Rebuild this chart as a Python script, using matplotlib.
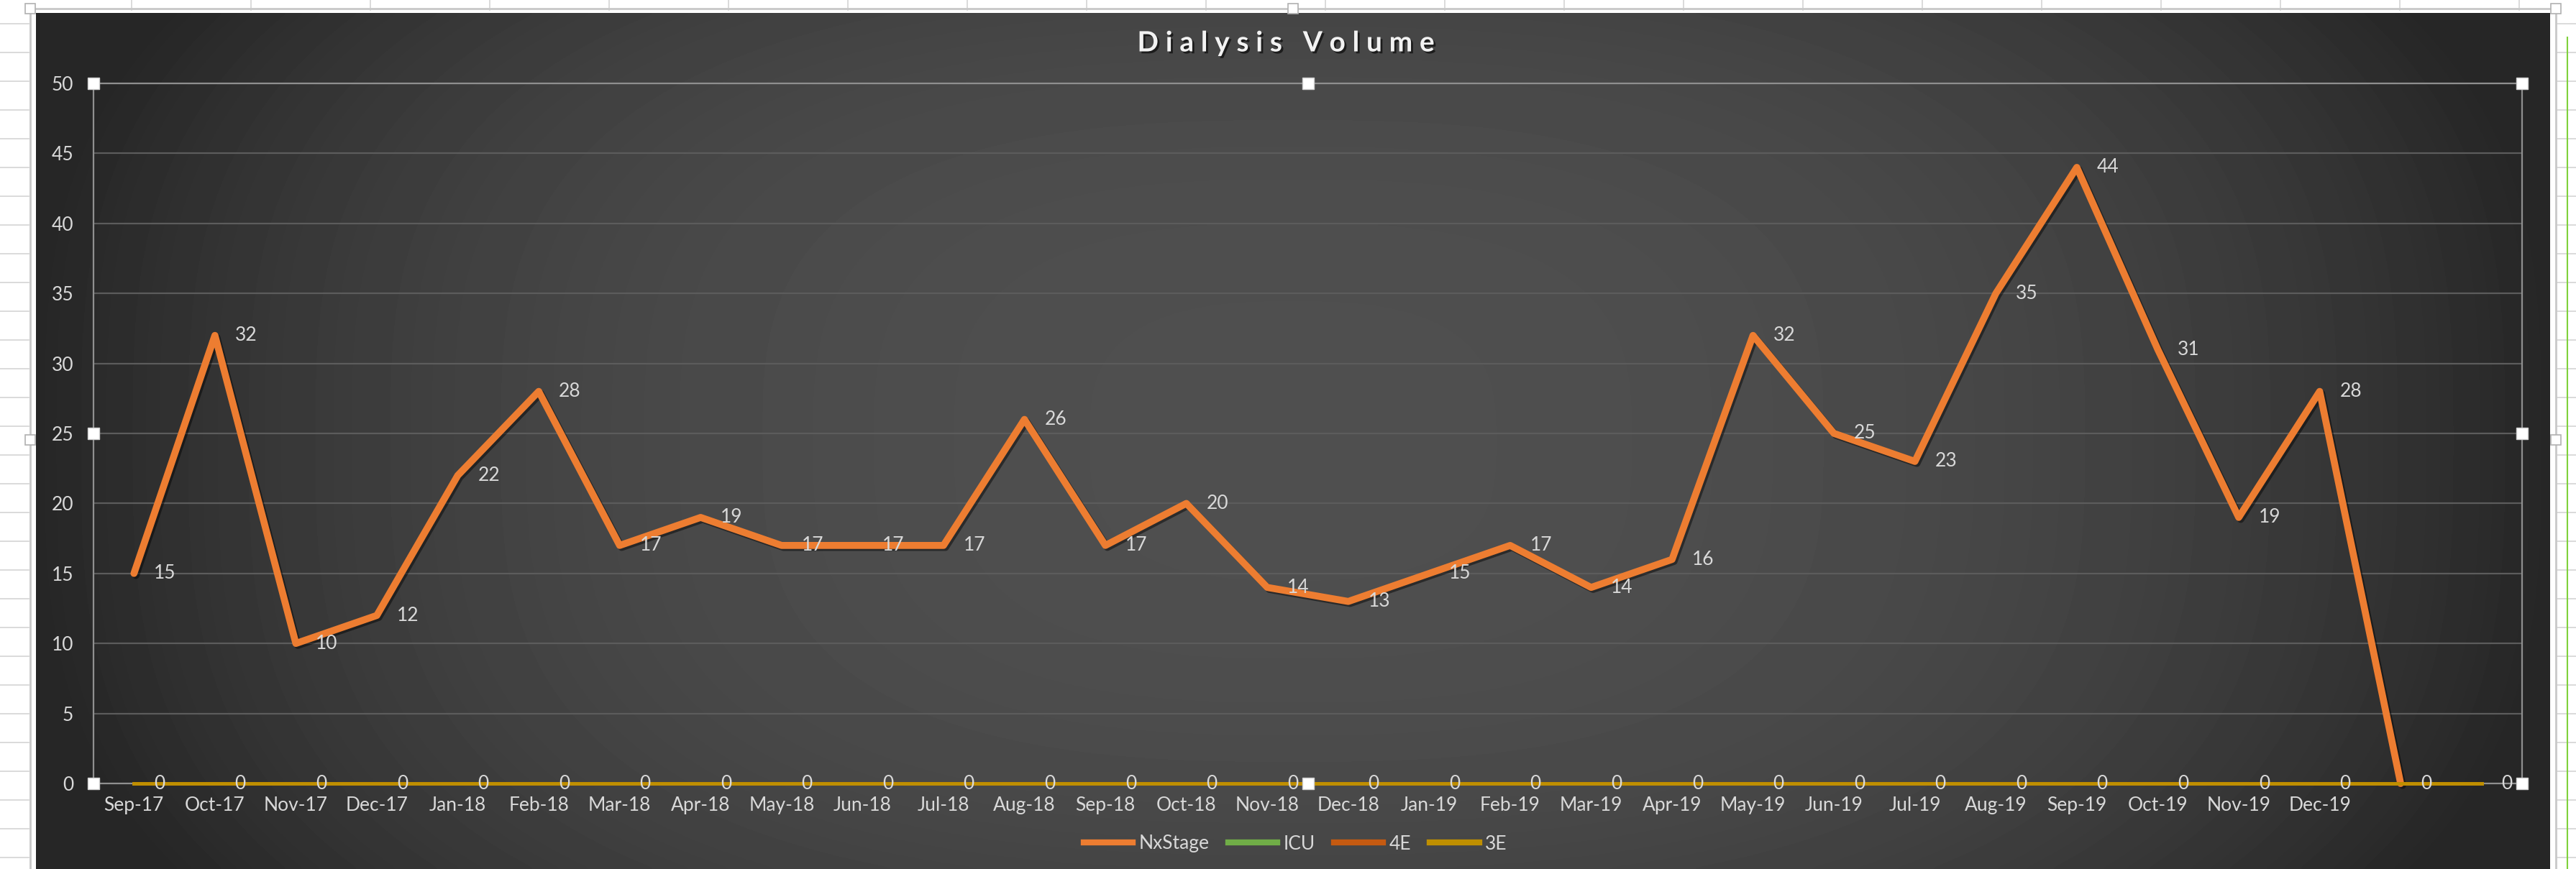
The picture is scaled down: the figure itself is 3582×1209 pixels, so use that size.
import numpy as np
import matplotlib
matplotlib.use("Agg")
import matplotlib.pyplot as plt
import matplotlib.patheffects as pe
from matplotlib.lines import Line2D
from matplotlib.patches import Rectangle

# ---------------- data ----------------
months = ["Sep-17", "Oct-17", "Nov-17", "Dec-17", "Jan-18", "Feb-18", "Mar-18",
          "Apr-18", "May-18", "Jun-18", "Jul-18", "Aug-18", "Sep-18", "Oct-18",
          "Nov-18", "Dec-18", "Jan-19", "Feb-19", "Mar-19", "Apr-19", "May-19",
          "Jun-19", "Jul-19", "Aug-19", "Sep-19", "Oct-19", "Nov-19", "Dec-19",
          "", ""]
nxstage = [15, 32, 10, 12, 22, 28, 17, 19, 17, 17, 17, 26, 17, 20, 14, 13, 15,
           17, 14, 16, 32, 25, 23, 35, 44, 31, 19, 28, 0]
icu = [0, 0, 0, 0, 0, 0, 0, 0, 0, 0, 0, 0, 0, 0, 0, 0, 0, 0, 0, 0, 0, 0, 0, 0,
       0, 0, 0, 0, 0, 0]
e4 = [0, 0, 0, 0, 0, 0, 0, 0, 0, 0, 0, 0, 0, 0, 0, 0, 0, 0, 0, 0, 0, 0, 0, 0,
      0, 0, 0, 0, 0, 0]
e3 = [0, 0, 0, 0, 0, 0, 0, 0, 0, 0, 0, 0, 0, 0, 0, 0, 0, 0, 0, 0, 0, 0, 0, 0,
      0, 0, 0, 0, 0, 0]
series_names = ["NxStage", "ICU", "4E", "3E"]
yticks = [0, 5, 10, 15, 20, 25, 30, 35, 40, 45, 50]
title = "Dialysis Volume"

# ---------------- style ----------------
FONT = ["Lato", "DejaVu Sans"]
plt.rcParams['font.family'] = FONT
TXT = "#d9d9d9"
C_NX, C_ICU, C_4E, C_3E = "#ED7D31", "#70AD47", "#C55A11", "#BF8F00"

W, H = 3582, 1209
fig = plt.figure(figsize=(W / 100, H / 100), dpi=100)
fig.patch.set_facecolor("white")

# background layer (pixel coordinates)
bg = fig.add_axes([0, 0, 1, 1])
bg.set_xlim(0, W)
bg.set_ylim(H, 0)
bg.axis("off")

# spreadsheet cell lines around the chart object
for gx in np.arange(183, W, 166):
    bg.plot([gx, gx], [0, 14], color="#d4d4d4", lw=1.2, zorder=0)
for gy in np.arange(33, H, 40):
    bg.plot([0, 40], [gy, gy], color="#d4d4d4", lw=1.2, zorder=0)
    bg.plot([3556, W], [gy, gy], color="#d4d4d4", lw=1.2, zorder=0)
bg.plot([3570, 3570], [52, H], color="#7fd13b", lw=1.5, zorder=0)

# chart area selection frame
bg.add_patch(Rectangle((42, 12), 3512, H, fill=False, ec="#c8c8c8", lw=2, zorder=1))

# dark gradient panel
px0, px1, py0, py1 = 50, 3546, 18, 1209
gxs = np.linspace(-1, 1, 900)
gys = np.linspace(-1, 1, 300)
GX, GY = np.meshgrid(gxs, gys)
shade = 0.31 - 0.16 * np.clip(np.abs(GX) ** 2.6 + 0.25 * np.abs(GY) ** 3, 0, 1)
bg.imshow(shade, extent=[px0, px1, py1, py0], cmap="gray", vmin=0, vmax=1,
          aspect="auto", interpolation="bicubic", zorder=2)

# chart-area handles
for hx, hy in [(42, 12), (1798, 12), (3554, 12), (42, 612), (3554, 612)]:
    bg.plot(hx, hy, marker="s", ms=10, mfc="white", mec="#b0b0b0", mew=1.2, zorder=3)

# ---------------- plot area ----------------
L, R, T, B = 130, 3507, 116, 1090
ax = fig.add_axes([L / W, 1 - B / H, (R - L) / W, (B - T) / H])
ax.patch.set_alpha(0)
x = np.arange(len(months))
ax.set_xlim(-0.5, len(months) - 0.5)
ax.set_ylim(0, 50)
ax.set_yticks(yticks)
ax.set_xticks(x)
ax.set_xticklabels(months)
ax.yaxis.grid(True, color="#5c5c5c", lw=1.6)
ax.set_axisbelow(True)
ax.tick_params(axis="both", length=0, colors=TXT, labelsize=19)
ax.tick_params(axis="y", pad=20)
ax.tick_params(axis="x", pad=13)
for s in ax.spines.values():
    s.set_color("#8f8f8f")
    s.set_linewidth(1.6)

shadow = [pe.SimpleLineShadow(offset=(2, -2), shadow_color="black", alpha=0.45), pe.Normal()]
ax.plot(x[:len(nxstage)], nxstage, color=C_NX, lw=7, solid_joinstyle="round",
        solid_capstyle="round", zorder=3, clip_on=False, path_effects=shadow)
ax.plot(x[:len(icu)], icu, color=C_ICU, lw=3.5, zorder=4, clip_on=False)
ax.plot(x[:len(e4)], e4, color=C_4E, lw=3.5, zorder=5, clip_on=False)
ax.plot(x[:len(e3)], e3, color=C_3E, lw=3.5, zorder=6, clip_on=False)

for i, v in enumerate(nxstage):
    if v != 0:
        ax.annotate(str(v), (i, v), xytext=(20, 0), textcoords="offset points",
                    ha="left", va="center", color=TXT, fontsize=19, zorder=8,
                    annotation_clip=False)
for i, v in enumerate(e3):
    ax.annotate(str(v), (i, v), xytext=(20, 0), textcoords="offset points",
                ha="left", va="center", color=TXT, fontsize=19, zorder=8,
                annotation_clip=False)

bg.set_zorder(0)
ax.set_zorder(1)

# plot-area selection handles (top layer)
hax = fig.add_axes([0, 0, 1, 1])
hax.set_xlim(0, W)
hax.set_ylim(H, 0)
hax.axis("off")
hax.patch.set_alpha(0)
for hx, hy in [(L, T), ((L + R) / 2, T), (R, T), (L, (T + B) / 2), (R, (T + B) / 2),
               (L, B), ((L + R) / 2, B), (R, B)]:
    hax.plot(hx, hy, marker="s", ms=11, mfc="white", mec="#d0d0d0", mew=1, zorder=10)
hax.set_zorder(2)

# title (letter-spaced)
spaced = "\u2005".join(title)
fig.text(1788 / W, 1 - 60 / H, spaced, ha="center", va="center", fontsize=28,
         fontweight="bold", color="#f2f2f2", family=FONT,
         path_effects=[pe.withSimplePatchShadow(offset=(2, -2), shadow_rgbFace="black", alpha=0.6)])

# legend
handles = [Line2D([], [], color=c, lw=6) for c in (C_NX, C_ICU, C_4E, C_3E)]
fig.legend(handles, series_names, loc="center", bbox_to_anchor=(1801 / W, 1 - 1174 / H),
           ncol=4, frameon=False, fontsize=19, handlelength=2.6, handletextpad=0.3,
           columnspacing=1.0, labelcolor=TXT)

fig.savefig("out.png", dpi=100, facecolor=fig.get_facecolor())
